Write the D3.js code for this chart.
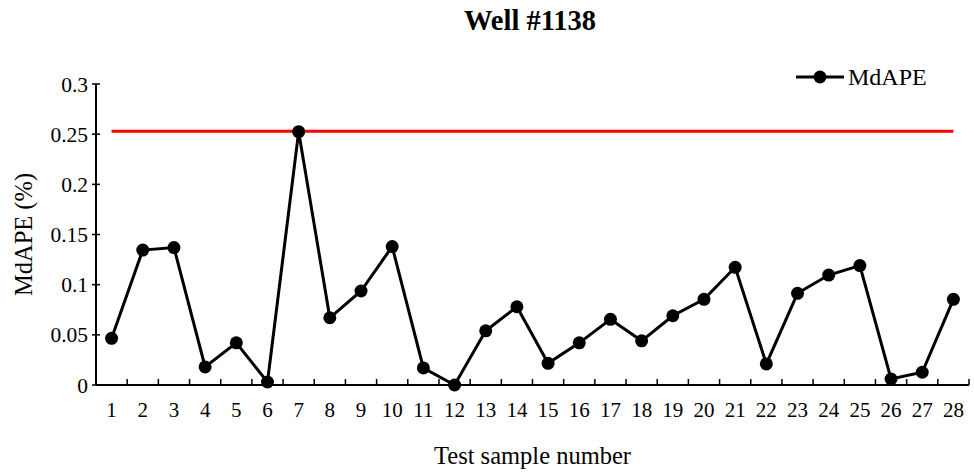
<!DOCTYPE html>
<html>
<head>
<meta charset="utf-8">
<script src="https://cdn.jsdelivr.net/npm/d3@7"></script>
<style>
  body { margin: 0; background: #fff; }
  text { font-family: "Liberation Serif", "Times New Roman", serif; fill: #000; }
</style>
</head>
<body>
<div id="chart"></div>
<script>
// test sample numbers
var samples = d3.range(1, 29);
// MdAPE values
var mdape = [0.0465, 0.1345, 0.137, 0.018, 0.042, 0.003, 0.2525, 0.067, 0.0937, 0.138,
             0.017, 0.0, 0.054, 0.078, 0.0216, 0.042, 0.0655, 0.044, 0.069, 0.0854,
             0.1173, 0.021, 0.0914, 0.1096, 0.119, 0.006, 0.0127, 0.0854];
// red threshold line
var threshold = 0.253;
var yTicks = [0, 0.05, 0.1, 0.15, 0.2, 0.25, 0.3];

var width = 974, height = 473;
var margin = {top: 84, right: 5, bottom: 88, left: 96};

var svg = d3.select("#chart").append("svg")
    .attr("width", width)
    .attr("height", height);

var x = d3.scaleBand()
    .domain(samples)
    .range([margin.left, width - margin.right]);

var y = d3.scaleLinear()
    .domain([0, 0.3])
    .range([height - margin.bottom, margin.top]);

// title
svg.append("text")
    .attr("x", 530)
    .attr("y", 30)
    .attr("text-anchor", "middle")
    .style("font-size", "28.5px")
    .style("font-weight", "bold")
    .text("Well #1138");

// x axis, ticks on band edges pointing inward
var xAxis = svg.append("g")
    .attr("transform", "translate(0," + y(0) + ")");
xAxis.append("line")
    .attr("x1", x.range()[0]).attr("x2", x.range()[1])
    .attr("stroke", "#000").attr("stroke-width", 2);
xAxis.selectAll(".tick")
    .data(samples)
    .enter().append("line")
    .attr("x1", function(d) { return x(d) + x.bandwidth(); })
    .attr("x2", function(d) { return x(d) + x.bandwidth(); })
    .attr("y1", 0).attr("y2", -6)
    .attr("stroke", "#000").attr("stroke-width", 1.5);
xAxis.selectAll(".lbl")
    .data(samples)
    .enter().append("text")
    .attr("x", function(d) { return x(d) + x.bandwidth() / 2; })
    .attr("y", 32)
    .attr("text-anchor", "middle")
    .style("font-size", "21px")
    .text(function(d) { return d; });

// y axis
var yAxis = svg.append("g")
    .attr("transform", "translate(" + margin.left + ",0)");
yAxis.append("line")
    .attr("y1", y(0)).attr("y2", y(0.3))
    .attr("stroke", "#000").attr("stroke-width", 2);
yAxis.selectAll(".tick")
    .data(yTicks)
    .enter().append("line")
    .attr("x1", -4).attr("x2", 4)
    .attr("y1", function(d) { return y(d); })
    .attr("y2", function(d) { return y(d); })
    .attr("stroke", "#000").attr("stroke-width", 1.5);
yAxis.selectAll(".lbl")
    .data(yTicks)
    .enter().append("text")
    .attr("x", -8)
    .attr("y", function(d) { return y(d); })
    .attr("dy", "0.35em")
    .attr("text-anchor", "end")
    .style("font-size", "21.5px")
    .text(function(d) { return d3.format("")(d); });

// axis titles
svg.append("text")
    .attr("x", (x.range()[0] + x.range()[1]) / 2)
    .attr("y", 464)
    .attr("text-anchor", "middle")
    .style("font-size", "24.5px")
    .text("Test sample number");
svg.append("text")
    .attr("transform", "translate(32," + (y(0.15)) + ")rotate(-90)")
    .attr("text-anchor", "middle")
    .style("font-size", "24.5px")
    .text("MdAPE (%)");

// threshold line
svg.append("line")
    .attr("x1", x(samples[0]) + x.bandwidth() / 2)
    .attr("x2", x(samples[samples.length - 1]) + x.bandwidth() / 2)
    .attr("y1", y(threshold)).attr("y2", y(threshold))
    .attr("stroke", "#ff0000").attr("stroke-width", 3);

// series
var line = d3.line()
    .x(function(d, i) { return x(samples[i]) + x.bandwidth() / 2; })
    .y(function(d) { return y(d); });
svg.append("path")
    .datum(mdape)
    .attr("d", line)
    .attr("fill", "none")
    .attr("stroke", "#000")
    .attr("stroke-width", 3);
svg.selectAll(".dot")
    .data(mdape)
    .enter().append("circle")
    .attr("cx", function(d, i) { return x(samples[i]) + x.bandwidth() / 2; })
    .attr("cy", function(d) { return y(d); })
    .attr("r", 6.5)
    .attr("fill", "#000");

// legend
var legend = svg.append("g").attr("transform", "translate(796,77)");
legend.append("line")
    .attr("x1", 0).attr("x2", 48)
    .attr("stroke", "#000").attr("stroke-width", 3);
legend.append("circle")
    .attr("cx", 24).attr("r", 6.5).attr("fill", "#000");
legend.append("text")
    .attr("x", 52)
    .attr("dy", "0.35em")
    .style("font-size", "24px")
    .text("MdAPE");
</script>
</body>
</html>
